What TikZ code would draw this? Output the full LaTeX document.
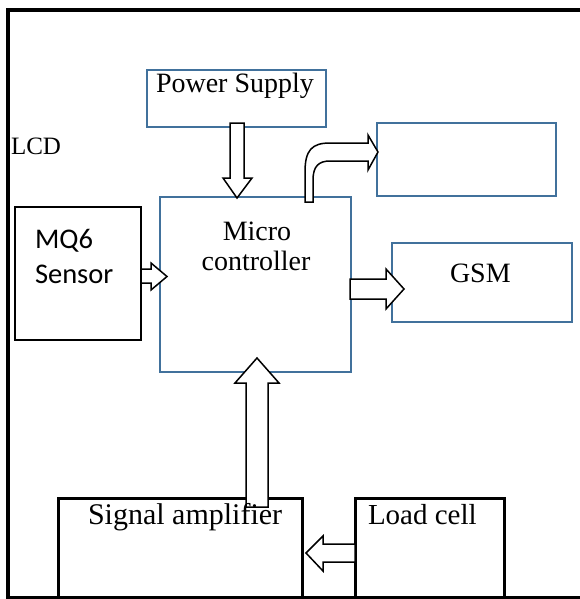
\documentclass[tikz,border=0pt]{standalone}
\usepackage{fontspec}
\setmainfont{Liberation Serif}
\newfontfamily\calib{Carlito}
\definecolor{boxblue}{HTML}{41719C}
\begin{document}
\begin{tikzpicture}[x=1pt,y=-1pt,
  bluebox/.style={draw=boxblue,line width=1.6pt,inner sep=0pt,outer sep=0pt,anchor=north west},
  thinbox/.style={draw=black,line width=1.5pt,inner sep=0pt,outer sep=0pt,anchor=north west},
  thickbox/.style={draw=black,line width=3pt},
  blockarrow/.style={draw=black,fill=white,line width=1.5pt,line join=miter},
  lbl/.style={inner sep=0pt,outer sep=0pt,font=\fontsize{28}{34}\selectfont},
  sanslbl/.style={inner sep=0pt,outer sep=0pt,font=\calib\fontsize{28.5}{34}\selectfont}]
\useasboundingbox (0,0) rectangle (579,599);
% outer frame
\draw[line width=3.2pt] (581,10) -- (8,10) -- (8,597.5) -- (581,597.5);
% boxes
\node[bluebox,minimum width=179pt,minimum height=57pt] (ps) at (147,70) {};
\node[bluebox,minimum width=179pt,minimum height=73pt] (lcdbox) at (377,123) {};
\node[bluebox,minimum width=191pt,minimum height=175pt] (mc) at (160,197) {};
\node[thinbox,minimum width=126pt,minimum height=133pt] (mq) at (15,207) {};
\node[bluebox,minimum width=180pt,minimum height=79pt] (gsm) at (392,243) {};
\coordinate (sa1) at (58,598);
\coordinate (sa2) at (58,498);
\coordinate (sa3) at (302,498);
\coordinate (sa4) at (302,598);
\draw[thickbox] (sa1) -- (sa2) -- (sa3) -- (sa4);
\coordinate (lc1) at (355,598);
\coordinate (lc2) at (355,498);
\coordinate (lc3) at (504,498);
\coordinate (lc4) at (504,598);
\draw[thickbox] (lc1) -- (lc2) -- (lc3) -- (lc4);
% block arrows
% power supply -> micro controller
\draw[blockarrow] (230,123) -- (244,123) -- (244,178) -- (252,178) -- (237,198) -- (223,178) -- (230,178) -- cycle;
% micro controller -> LCD (bent)
\draw[blockarrow] (305,202) -- (305,172) .. controls (305,150) and (312,143) .. (330,143) -- (368,143) -- (368,135) -- (378,152) -- (368,170) -- (368,161) -- (330,161) .. controls (319,161) and (313,166) .. (313,180) -- (313,202) -- cycle;
% MQ6 -> micro controller
\draw[blockarrow] (141,269) -- (151,269) -- (151,263) -- (167,276.5) -- (151,290) -- (151,283) -- (141,283) -- cycle;
% micro controller -> GSM
\draw[blockarrow] (350,279) -- (386,279) -- (386,269) -- (404,289) -- (386,309) -- (386,299) -- (350,299) -- cycle;
% signal amplifier -> micro controller
\draw[blockarrow] (246,507) -- (246,383) -- (235,383) -- (257,358) -- (279,383) -- (268,383) -- (268,507) -- cycle;
% load cell -> signal amplifier
\draw[blockarrow] (355,544) -- (323,544) -- (323,536) -- (306,553) -- (323,571) -- (323,562) -- (355,562) -- cycle;
% labels
\node[lbl,anchor=base west] (tps) at (156,93) {Power Supply};
\node[lbl,anchor=base west,font=\fontsize{25}{30}\selectfont] (tlcd) at (11,154) {LCD};
\node[lbl,anchor=base] (tmicro) at (257,240) {Micro};
\node[lbl,anchor=base] (tctrl) at (256,270) {controller};
\node[sanslbl,anchor=base west] (tmq) at (35,248) {MQ6};
\node[sanslbl,anchor=base west] (tsens) at (35,283) {Sensor};
\node[lbl,anchor=base west] (tgsm) at (450,282) {GSM};
\node[lbl,anchor=base west,font=\fontsize{30}{34}\selectfont] (tsa) at (88,524) {Signal amplifier};
\node[lbl,anchor=base west,font=\fontsize{29}{34}\selectfont] (tlc) at (368,524) {Load cell};
\end{tikzpicture}
\end{document}
